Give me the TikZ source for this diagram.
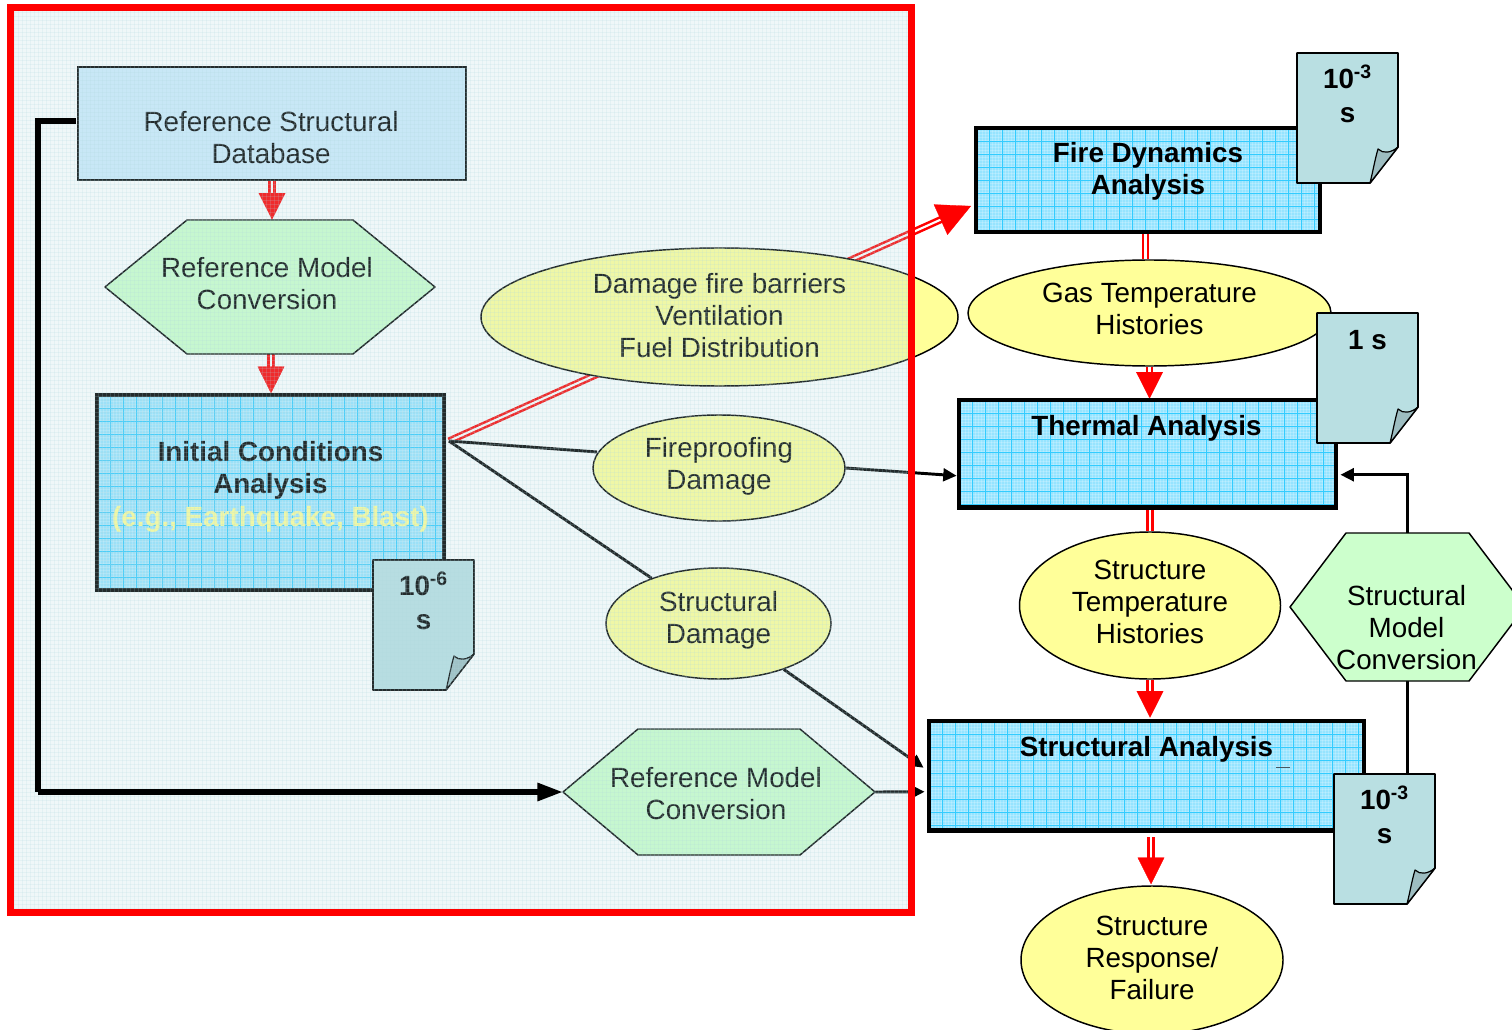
\documentclass[tikz,border=0pt]{standalone}
\usepackage{fontspec}
\setmainfont{Liberation Sans}
\usetikzlibrary{shapes.geometric,arrows.meta,calc}
\pgfdeclarelayer{edges}
\pgfdeclarelayer{base}
\pgfsetlayers{base,edges,main}
\definecolor{frameRed}{HTML}{FF0000}
\definecolor{cyanFill}{HTML}{96E4FF}
\definecolor{cyanGrid}{HTML}{33CCFF}
\definecolor{dbFill}{HTML}{CFEBFD}
\definecolor{hexFill}{HTML}{CCFFCC}
\definecolor{ellFill}{HTML}{FFFF99}
\definecolor{noteFill}{HTML}{B9DFE2}
\definecolor{foldFill}{HTML}{9DBDC1}
\definecolor{veil}{HTML}{B0D8DE}
\tikzset{
  px/.style={x=0.75pt,y=-0.75pt},
  txt/.style={font=\fontsize{20.85}{24}\selectfont,align=center,text=black,inner sep=0pt},
  txtb/.style={txt,font=\fontsize{20.85}{24}\selectfont\bfseries},
  shapeline/.style={draw=black,line width=1.1pt},
  ellnode/.style={ellipse,shapeline,fill=ellFill,inner sep=0pt},
  blank/.style={rectangle,inner sep=0pt,draw=none,fill=none},
  heavybox/.style={blank,draw=black,line width=3.6pt},
  dblshaft/.style={draw=frameRed,double=white,line width=1.9pt,double distance=1.6pt},
  redtip/.style={draw=frameRed,fill=frameRed,line width=.2pt},
  blackline/.style={draw=black,line width=2.2pt},
  blacktip/.style={-{Triangle[length=10pt,width=9.5pt]}},
}
% name cx cy w h text dy
\newcommand\ellshape[7]{\node[ellnode,minimum width={#4*0.75pt},minimum height={#5*0.75pt},label={[txt,shift={(0,#7)}]center:{#6}}] (#1) at (#2,#3) {};}
% name cx cy halfw halfh inset dx dy text
\newcommand\hexshape[9]{%
  \fill[hexFill] ({#2-#4},#3) -- ({#2-#4+#6},{#3-#5}) -- ({#2+#4-#6},{#3-#5}) -- ({#2+#4},#3) -- ({#2+#4-#6},{#3+#5}) -- ({#2-#4+#6},{#3+#5}) -- cycle;
  \draw[line width=1.1pt,line join=round] ({#2-#4},#3) -- ({#2-#4+#6},{#3-#5}) -- ({#2+#4-#6},{#3-#5}) -- ({#2+#4},#3) -- ({#2+#4-#6},{#3+#5}) -- ({#2-#4+#6},{#3+#5}) -- cycle;
  \node[blank,minimum width={2*#4*0.75pt},minimum height={2*#5*0.75pt},label={[txt,shift={(#7,#8)}]center:{#9}}] (#1) at (#2,#3) {};}
% name x0 y0 x1 y1 labeloptions
\newcommand\gridbox[6]{%
  \begin{scope}
    \clip (#2,#3) rectangle (#4,#5);
    \fill[cyanFill] (#2,#3) rectangle (#4,#5);
    \foreach \k in {0,...,150}{\draw[white,opacity=.2,line width=.8pt] ({#2+3.25*\k},#3) -- ++(0,220);}
    \foreach \k in {0,...,70}{\draw[white,opacity=.2,line width=.8pt] (#2,{#3+3.25*\k}) -- ++(460,0);}
    \foreach \k in {0,...,36}{\draw[cyanGrid,line width=.6pt] ({#2+13*\k},#3) -- ++(0,220);}
    \foreach \k in {0,...,17}{\draw[cyanGrid,line width=.6pt] (#2,{#3+13*\k}) -- ++(460,0);}
  \end{scope}
  \node[heavybox,minimum width={(#4-#2)*0.75pt},minimum height={(#5-#3)*0.75pt},#6] (#1) at ({(#2+#4)/2},{(#3+#5)/2}) {};}
% name x y (top left) labelshift text
\newcommand\noteshape[5]{%
  \draw[line width=1.3pt,fill=noteFill,line join=round] (#2,#3) -- ++(101,0) -- ++(0,94) -- ({#2+73},{#3+130}) -- ++(-73,0) -- cycle;
  \draw[line width=.9pt,fill=foldFill,line join=round] ({#2+73},{#3+130}) .. controls ({#2+76},{#3+118}) and ({#2+78},{#3+106}) .. ({#2+81},{#3+96}) .. controls ({#2+86},{#3+101}) and ({#2+94},{#3+100}) .. ({#2+101},{#3+94}) -- cycle;
  \node[blank,minimum width=75.75pt,minimum height=97.5pt,label={[txtb,shift={(0,#4)}]center:{#5}}] (#1) at ({#2+50.5},{#3+65}) {};}
% from to headlength headwidth
\newcommand\dblarrow[4]{%
  \draw[dblshaft,shorten >=#3-1pt] (#1) -- (#2);
  \draw[redtip,-{Triangle[length=#3,width=#4]}] ($(#2)!#3!(#1)$) -- (#2);}
\begin{document}
\begin{tikzpicture}[px]
\useasboundingbox (0,0) rectangle (1512,1030);
\clip (0,0) rectangle (1512,1030);
\begin{pgfonlayer}{base}
  \fill[white] (0,0) rectangle (1512,1030);
\end{pgfonlayer}

% left panel shapes
\node[blank,draw=black,line width=1.6pt,fill=dbFill,minimum width=291pt,minimum height=84.75pt,label={[txt,shift={(-1,14)}]center:{Reference Structural\\Database}}] (db) at (272,123.5) {};
\hexshape{hexA}{270}{287}{165}{67}{82}{-3}{-3}{Reference Model\\Conversion}
\gridbox{init}{97}{395}{444}{590}{label={[txtb,shift={(0,-22)}]center:{Initial Conditions\\Analysis}},label={[txtb,text=ellFill,shift={(0,27)}]center:{(e.g., Earthquake, Blast)}}}
\noteshape{noteInit}{373}{560}{-24}{10\textsuperscript{-6}\\[1.25pt]s}
\ellshape{dmg}{719.5}{317}{477}{138}{Damage fire barriers\\Ventilation\\Fuel Distribution}{-1}
\ellshape{fp}{719}{468}{252}{106}{Fireproofing\\Damage}{-2}
\ellshape{sd}{718.5}{623.5}{225}{111}{Structural\\Damage}{-3.5}
\hexshape{hexB}{719}{792}{156}{63}{75}{-3}{1.5}{Reference Model\\Conversion}

% right column shapes
\gridbox{fire}{976}{128}{1320}{232}{label={[txtb,shift={(0,-8.5)}]center:{Fire Dynamics\\Analysis}}}
\noteshape{noteFire}{1297}{53}{-24.5}{10\textsuperscript{-3}\\[1.25pt]s}
\ellshape{gas}{1149.5}{313}{363}{106}{Gas Temperature\\Histories}{-4}
\gridbox{therm}{959}{400}{1336}{507.5}{label={[txtb,shift={(-1,-25)}]center:{Thermal Analysis}}}
\noteshape{noteTherm}{1317}{313}{-38}{1 s}
\ellshape{stemp}{1150}{605.5}{261}{147}{Structure\\Temperature\\Histories}{-4}
\hexshape{hexR}{1407.5}{607}{117.5}{74}{56}{-1}{20.5}{Structural\\Model\\Conversion}
\gridbox{sa}{929}{721}{1364}{830.5}{label={[txtb,shift={(0,-26)}]center:{Structural Analysis}}}
\draw[draw=black!70!cyan,line width=1.2pt] (1276,767.5) -- (1290,767.5);
\noteshape{noteSA}{1334}{774}{-24}{10\textsuperscript{-3}\\[1.25pt]s}
\ellshape{resp}{1152}{960}{262}{148}{Structure\\Response/\\Failure}{-2}

% connectors
\coordinate (initOut) at (449,441);
\coordinate (fireIn) at (971,206);
\coordinate (fpIn) at (597,452);
\coordinate (thermIn) at ($(therm.west)+(0,22)$);
\coordinate (saInA) at ($(sa.west)+(-3,-8)$);
\coordinate (saInB) at ($(sa.west)+(-2,16)$);
\coordinate (thermInR) at ($(therm.east)+(2,21)$);
\coordinate (dbOut) at ($(db.west)+(-1,-2.5)$);
\coordinate (corner) at (38,121);
\coordinate (cornerB) at (38,792);
\begin{pgfonlayer}{edges}
  \dblarrow{db.south}{db.south |- hexA.north}{20pt}{20pt}
  \dblarrow{$(hexA.south)+(1,0)$}{$(hexA.south)+(1,39)$}{20pt}{20pt}
  \dblarrow{initOut}{fireIn}{25pt}{25pt}
  \draw[dblshaft] ($(gas.north |- fire.south)+(-4,0)$) -- ($(gas.north)+(-4,0)$);
  \dblarrow{gas.south}{$(gas.south)+(0,32)$}{20pt}{20pt}
  \draw[dblshaft] (stemp.north |- therm.south) -- (stemp.north);
  \dblarrow{stemp.south}{$(stemp.south)+(0,38)$}{20pt}{20pt}
  \dblarrow{$(resp.north)+(-1,-48)$}{$(resp.north)+(-1,-1)$}{20pt}{20pt}
  \draw[blackline] (initOut) -- (fpIn);
  \draw[blackline,blacktip] (fp.east) -- (thermIn);
  \draw[blackline] (initOut) -- (sd);
  \draw[blackline,blacktip] (sd) -- (saInA);
  \draw[blackline,blacktip] (hexB.east) -- (saInB);
  \draw[blackline,blacktip] (hexR.north) |- (thermInR);
  \draw[blackline] (hexR.south) -- (hexR.south |- noteSA.north);
\end{pgfonlayer}

% veil over the left panel
\fill[veil,opacity=.2] (10,8) rectangle (912,912);
\begin{scope}
  \clip (10,8) rectangle (912,912);
  \foreach \k in {0,...,226}{\draw[veil,opacity=.18,line width=.7pt] ({10+4*\k},8) -- ++(0,904);}
  \foreach \k in {0,...,226}{\draw[veil,opacity=.18,line width=.7pt] (10,{8+4*\k}) -- ++(902,0);}
\end{scope}
% the feed line stays solid black above the veil
\draw[draw=black,line width=3.8pt,line join=miter] (dbOut) -- (corner) -- (cornerB);
\draw[draw=black,line width=3.8pt,-{Triangle[length=19pt,width=13pt]}] (cornerB) -- (hexB.west);
\draw[frameRed,line width=5.25pt] (10.5,8) rectangle (911.5,912.5);
\end{tikzpicture}
\end{document}
